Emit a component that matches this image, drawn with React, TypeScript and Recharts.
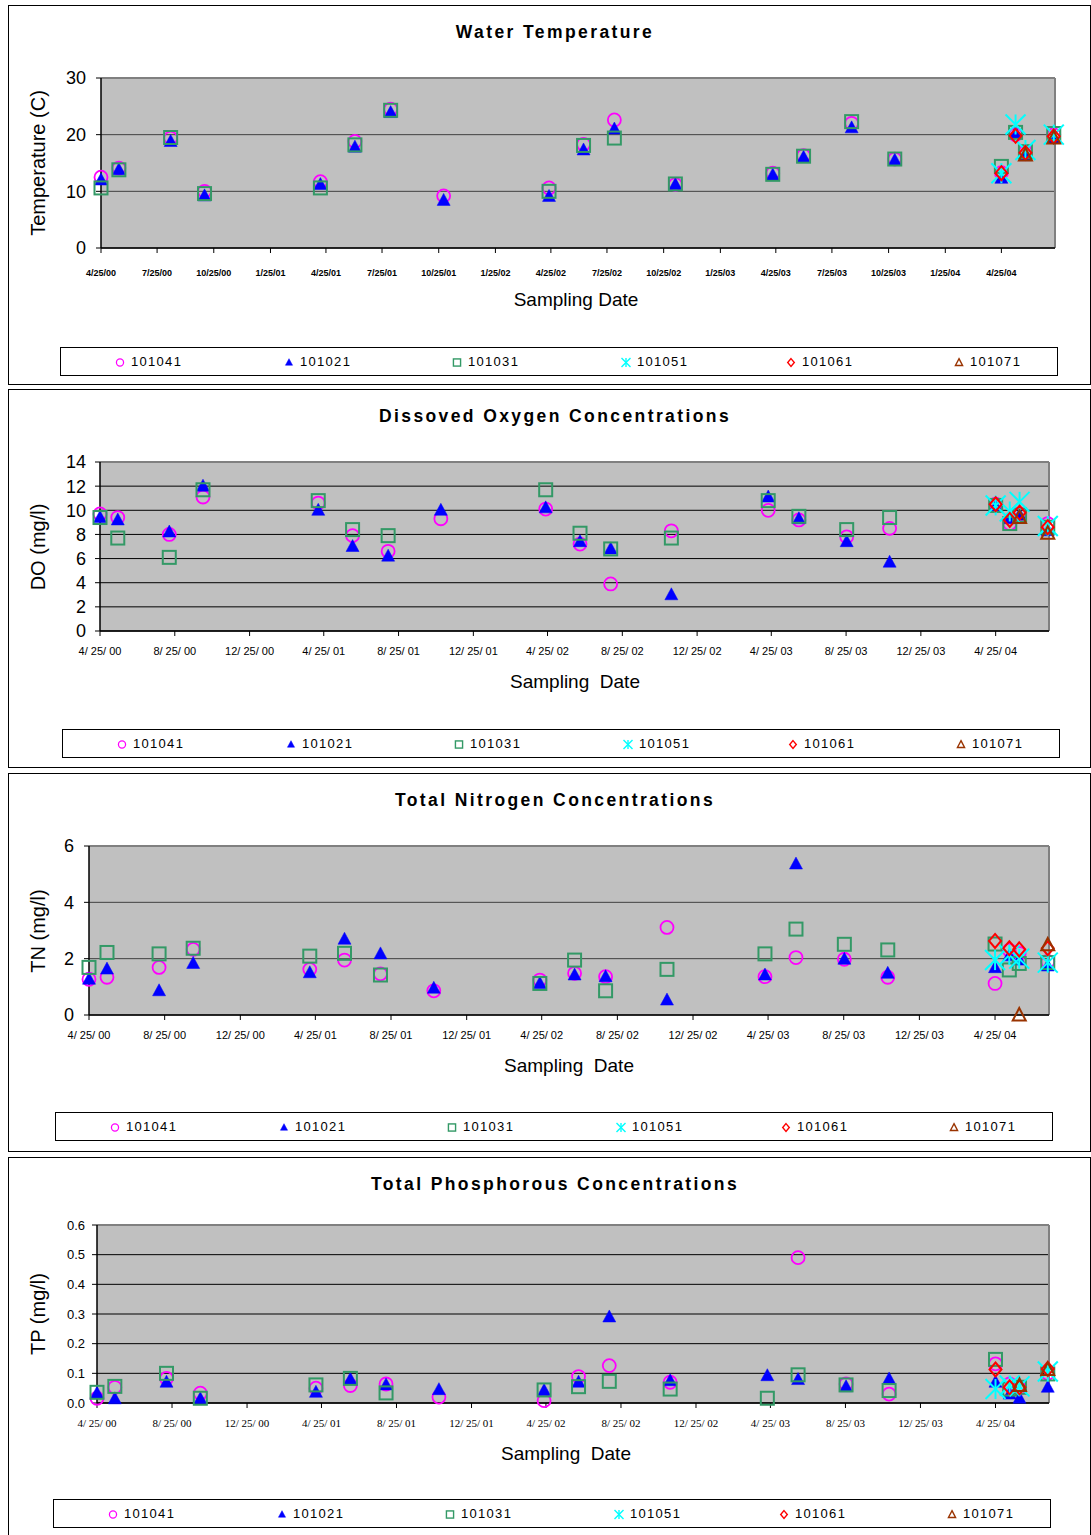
import React from 'react';
import { ScatterChart, Scatter, XAxis, YAxis, CartesianGrid, ReferenceLine } from 'recharts';

// ---------- data ----------
const sampleDates = [
  '4/25/00', '5/24/00', '8/16/00', '10/10/00', '4/16/01', '6/11/01', '8/8/01', '11/2/01',
  '4/22/02', '6/17/02', '8/6/02', '11/13/02', '4/20/03', '6/9/03', '8/26/03', '11/4/03',
  '4/25/04', '5/18/04', '6/3/04', '7/19/04',
];

const seriesNames = ['101041', '101021', '101031', '101051', '101061', '101071'];

const xTicksQuarter = [
  '4/25/00', '7/25/00', '10/25/00', '1/25/01', '4/25/01', '7/25/01', '10/25/01', '1/25/02',
  '4/25/02', '7/25/02', '10/25/02', '1/25/03', '4/25/03', '7/25/03', '10/25/03', '1/25/04', '4/25/04',
];
const xTicksThird = [
  '4/25/00', '8/25/00', '12/25/00', '4/25/01', '8/25/01', '12/25/01', '4/25/02', '8/25/02',
  '12/25/02', '4/25/03', '8/25/03', '12/25/03', '4/25/04',
];
const xDomainDates = ['4/25/00', '7/21/04'];

const N = null;

// Water temperature (C)
const temp101041 = [12.5, 14.1, 19.4, 10.0, 11.7, 18.8, 24.5, 9.2, 10.6, 18.3, 22.6, 11.2, 13.2, 16.3, 22.0, 15.7, 13.3, 20.0, 17.0, 20.0];
const temp101021 = [12.0, 13.8, 18.8, 9.2, 11.2, 17.8, 23.9, 8.4, 9.1, 17.3, 21.0, 11.2, 12.9, 16.0, 21.2, 15.5, 12.3, 20.3, 16.3, 19.4];
const temp101031 = [10.6, 13.8, 19.5, 9.6, 10.6, 18.2, 24.3, N, 10.0, 18.1, 19.4, 11.3, 13.0, 16.2, 22.3, 15.7, 14.4, 20.4, 17.0, 20.2];
const temp101051 = [N, N, N, N, N, N, N, N, N, N, N, N, N, N, N, N, 13.2, 21.8, 17.3, 20.0];
const temp101061 = [N, N, N, N, N, N, N, N, N, N, N, N, N, N, N, N, 13.2, 19.8, 16.8, 19.7];
const temp101071 = [N, N, N, N, N, N, N, N, N, N, N, N, N, N, N, N, N, N, 16.4, 19.4];

// Dissolved oxygen (mg/l)
const do101041 = [9.7, 9.4, 8.0, 11.1, 10.6, 7.9, 6.6, 9.3, 10.1, 7.2, 3.9, 8.3, 10.0, 9.2, 7.8, 8.5, 10.5, 8.9, 9.7, 8.9];
const do101021 = [9.4, 9.2, 8.2, 12.0, 10.0, 7.0, 6.2, 10.0, 10.2, 7.4, 6.8, 3.0, 11.1, 9.3, 7.4, 5.7, 10.3, 9.3, 9.6, 8.3];
const do101031 = [9.4, 7.7, 6.1, 11.7, 10.8, 8.4, 7.9, N, 11.7, 8.1, 6.8, 7.7, 10.8, 9.5, 8.4, 9.4, 10.4, 8.9, 9.6, 8.6];
const do101051 = [N, N, N, N, N, N, N, N, N, N, N, N, N, N, N, N, 10.4, 9.9, 10.7, 8.7];
const do101061 = [N, N, N, N, N, N, N, N, N, N, N, N, N, N, N, N, 10.5, 9.2, 9.8, 8.6];
const do101071 = [N, N, N, N, N, N, N, N, N, N, N, N, N, N, N, N, N, N, 9.4, 8.1];

// Total nitrogen (mg/l)
const tn101041 = [1.27, 1.34, 1.69, 2.33, 1.62, 1.95, 1.46, 0.86, 1.24, 1.48, 1.36, 3.11, 1.36, 2.04, 1.98, 1.34, 1.12, 2.3, 2.19, 1.9];
const tn101021 = [1.27, 1.63, 0.86, 1.83, 1.5, 2.69, 2.17, 0.95, 1.12, 1.42, 1.36, 0.53, 1.42, 5.36, 1.98, 1.48, 1.68, 2.1, 1.95, 1.74];
const tn101031 = [1.69, 2.22, 2.17, 2.37, 2.09, 2.19, 1.42, N, 1.12, 1.95, 0.86, 1.62, 2.17, 3.05, 2.51, 2.31, 2.52, 1.6, 1.83, 1.86];
const tn101051 = [N, N, N, N, N, N, N, N, N, N, N, N, N, N, N, N, 1.95, 2.13, 2.0, 1.86];
const tn101061 = [N, N, N, N, N, N, N, N, N, N, N, N, N, N, N, N, 2.63, 2.37, 2.33, 2.37];
const tn101071 = [N, N, N, N, N, N, N, N, N, N, N, N, N, N, N, N, N, N, 0.0, 2.49];

// Total phosphorous (mg/l)
const tp101041 = [0.016, 0.053, 0.083, 0.033, 0.05, 0.059, 0.064, 0.02, 0.008, 0.089, 0.126, 0.07, N, 0.49, 0.064, 0.03, 0.132, 0.064, 0.05, 0.1];
const tp101021 = [0.033, 0.014, 0.07, 0.014, 0.036, 0.08, 0.061, 0.045, 0.042, 0.07, 0.29, 0.075, 0.092, 0.079, 0.055, 0.081, 0.07, 0.03, 0.016, 0.053];
const tp101031 = [0.036, 0.056, 0.1, 0.016, 0.061, 0.083, 0.034, N, 0.044, 0.055, 0.073, 0.047, 0.016, 0.095, 0.061, 0.042, 0.147, 0.047, 0.053, 0.098];
const tp101051 = [N, N, N, N, N, N, N, N, N, N, N, N, N, N, N, N, 0.047, 0.059, 0.056, 0.106];
const tp101061 = [N, N, N, N, N, N, N, N, N, N, N, N, N, N, N, N, 0.113, 0.053, 0.053, 0.115];
const tp101071 = [N, N, N, N, N, N, N, N, N, N, N, N, N, N, N, N, N, N, 0.059, 0.113];

const tempTicks = [0, 10, 20, 30];
const doTicks = [0, 2, 4, 6, 8, 10, 12, 14];
const tnTicks = [0, 2, 4, 6];
const tpTicks = [0, 0.1, 0.2, 0.3, 0.4, 0.5, 0.6];

// ---------- helpers ----------
function dayOf(s: string): number {
  const [m, d, y] = s.split('/').map(Number);
  return Date.UTC(2000 + y, m - 1, d) / 86400000;
}

function toPoints(values: (number | null)[]) {
  const out: { x: number; y: number }[] = [];
  values.forEach((v, i) => {
    if (v !== null && v !== undefined) out.push({ x: dayOf(sampleDates[i]), y: v });
  });
  return out;
}

const FONT = 'Arial, "Liberation Sans", sans-serif';

// ---------- marker shapes ----------
const COLORS = ['#ff00ff', '#0000ff', '#339966', '#00ffff', '#ff0000', '#993300'];

function drawMarker(kind: number, cx: number, cy: number, s: number, key?: any) {
  const sw = 2 * Math.max(s, 0.7);
  switch (kind) {
    case 0:
      return <circle key={key} cx={cx} cy={cy} r={6.5 * s} fill="none" stroke={COLORS[0]} strokeWidth={1.8 * Math.max(s, 0.7)} />;
    case 1:
      return (
        <polygon key={key}
          points={`${cx},${cy - 7 * s} ${cx + 6.5 * s},${cy + 5 * s} ${cx - 6.5 * s},${cy + 5 * s}`}
          fill={COLORS[1]} stroke={COLORS[1]} strokeWidth={0.5} />
      );
    case 2:
      return <rect key={key} x={cx - 6.5 * s} y={cy - 6.5 * s} width={13 * s} height={13 * s} fill="none" stroke={COLORS[2]} strokeWidth={sw} />;
    case 3: {
      const r = 10 * s;
      return (
        <g key={key} stroke={COLORS[3]} strokeWidth={sw}>
          <line x1={cx - r} y1={cy - r} x2={cx + r} y2={cy + r} />
          <line x1={cx - r} y1={cy + r} x2={cx + r} y2={cy - r} />
          <line x1={cx} y1={cy - r} x2={cx} y2={cy + r} />
        </g>
      );
    }
    case 4:
      return (
        <polygon key={key}
          points={`${cx},${cy - 7 * s} ${cx + 6 * s},${cy} ${cx},${cy + 7 * s} ${cx - 6 * s},${cy}`}
          fill="none" stroke={COLORS[4]} strokeWidth={sw} />
      );
    default:
      return (
        <polygon key={key}
          points={`${cx},${cy - 7 * s} ${cx + 6.5 * s},${cy + 5.5 * s} ${cx - 6.5 * s},${cy + 5.5 * s}`}
          fill="none" stroke={COLORS[5]} strokeWidth={sw} />
      );
  }
}

function makeShape(kind: number) {
  return (props: any) => {
    const { cx, cy } = props;
    if (cx == null || cy == null) return <g />;
    return drawMarker(kind, cx, cy, 1);
  };
}

// ---------- legend (HTML) ----------
const legendOffsets = [59, 228, 396, 565, 730, 898];

function LegendBox({ left, top }: { left: number; top: number }) {
  return (
    <div style={{
      position: 'absolute', left, top, width: 998, height: 29, boxSizing: 'border-box',
      border: '1px solid #000', background: '#fff',
    }}>
      {seriesNames.map((name, i) => (
        <div key={name} style={{ position: 'absolute', left: legendOffsets[i] - 6, top: 0, height: 27, display: 'flex', alignItems: 'center' }}>
          <svg width={12} height={14} style={{ display: 'block' }}>
            {drawMarker(i, 6, 7.5, i === 3 ? 0.45 : 0.55)}
          </svg>
          <span style={{ fontFamily: FONT, fontSize: 13, letterSpacing: 1.3, marginLeft: 5, color: '#000' }}>{name}</span>
        </div>
      ))}
    </div>
  );
}

// ---------- panel ----------
type PanelProps = {
  boxTop: number; boxH: number;
  plotLeft: number; plotRight: number; plotTop: number; plotBottom: number;
  yDomain: [number, number]; yTicks: number[]; yFmt: (v: number) => string;
  yTickFont: number; yTickMargin: number;
  xTicks: string[]; xFmt: (s: string) => string;
  xTickStyle: any; xTickMargin: number;
  title: string; yLabel: string; xTitle: string; xTitleX: number; xTitleY: number;
  legendLeft: number; legendTop: number;
  values: (number | null)[][];
  gridStroke: string;
};

function Panel(p: PanelProps) {
  const chartTop = p.plotTop - 20;
  const xAxisH = 45;
  const chartH = p.plotBottom - p.plotTop + 20 + xAxisH;
  const yAxisW = 50;
  const xMin = dayOf(xDomainDates[0]);
  const xMax = dayOf(xDomainDates[1]);
  const tickDays = p.xTicks.map(dayOf);
  const labelMap = new Map<number, string>();
  p.xTicks.forEach((t, i) => labelMap.set(tickDays[i], p.xFmt(t)));
  const yLabelCy = (p.plotTop + p.plotBottom) / 2;

  return (
    <>
      <div style={{
        position: 'absolute', left: 8, top: p.boxTop, width: 1083, height: p.boxH,
        boxSizing: 'border-box', border: '1px solid #000',
      }} />
      <div style={{
        position: 'absolute', left: 0, width: 1110, top: p.boxTop + 27, textAlign: 'center',
        transform: 'translateY(-50%)', fontFamily: FONT, fontWeight: 'bold', fontSize: 17.5,
        letterSpacing: 2.4, color: '#000', whiteSpace: 'pre',
      }}>{p.title}</div>
      <div style={{
        position: 'absolute', left: 38, top: yLabelCy, transform: 'translate(-50%, -50%) rotate(-90deg)',
        fontFamily: FONT, fontSize: 20, color: '#000', whiteSpace: 'pre',
      }}>{p.yLabel}</div>
      <div style={{
        position: 'absolute', left: p.xTitleX, top: p.xTitleY, transform: 'translate(-50%, -50%)',
        fontFamily: FONT, fontSize: 19, color: '#000', whiteSpace: 'pre',
      }}>{p.xTitle}</div>
      <div style={{ position: 'absolute', left: 0, top: chartTop, width: 1091, height: chartH }}>
        <ScatterChart
          width={1091}
          height={chartH}
          margin={{ top: 20, right: 1091 - p.plotRight, bottom: 0, left: p.plotLeft - yAxisW }}
        >
          <CartesianGrid vertical={false} fill="#c0c0c0" fillOpacity={1} stroke={p.gridStroke} strokeWidth={1} />
          <XAxis
            type="number" dataKey="x" domain={[xMin, xMax]} ticks={tickDays} interval={0}
            height={xAxisH} tickSize={5} tickMargin={p.xTickMargin}
            tickFormatter={(v: number) => labelMap.get(v) ?? ''}
            tick={{ ...p.xTickStyle, fill: '#000' }}
            axisLine={{ stroke: '#000', strokeWidth: 1.5 }} tickLine={{ stroke: '#000' }}
          />
          <YAxis
            type="number" dataKey="y" domain={p.yDomain} ticks={p.yTicks} interval={0}
            width={yAxisW} tickSize={5} tickMargin={p.yTickMargin} tickFormatter={p.yFmt}
            tick={{ fontFamily: FONT, fontSize: p.yTickFont, fill: '#000' }}
            axisLine={{ stroke: '#000', strokeWidth: 1.5 }} tickLine={{ stroke: '#000' }}
          />
          <ReferenceLine y={p.yDomain[1]} stroke="#808080" strokeWidth={2} ifOverflow="visible" />
          <ReferenceLine x={xMax} stroke="#808080" strokeWidth={2} ifOverflow="visible" />
          {p.values.map((vals, i) => (
            <Scatter key={seriesNames[i]} name={seriesNames[i]} data={toPoints(vals)} shape={makeShape(i)} isAnimationActive={false} />
          ))}
        </ScatterChart>
      </div>
      <LegendBox left={p.legendLeft} top={p.legendTop} />
    </>
  );
}

const slashSpaced = (s: string) => s.split('/').join('/ ');
const intFmt = (v: number) => String(v);

export default function App() {
  return (
    <div style={{ position: 'absolute', left: 0, top: 0, width: 1091, height: 1535, overflow: 'hidden', background: '#fff' }}>
      <Panel
        boxTop={5} boxH={380}
        plotLeft={101} plotRight={1055} plotTop={78} plotBottom={248}
        yDomain={[0, 30]} yTicks={tempTicks} yFmt={intFmt} yTickFont={18} yTickMargin={10}
        xTicks={xTicksQuarter} xFmt={(s) => s}
        xTickStyle={{ fontFamily: FONT, fontSize: 9, fontWeight: 900 }} xTickMargin={17}
        title="Water Temperature" yLabel="Temperature (C)" xTitle="Sampling Date" xTitleX={576} xTitleY={300}
        legendLeft={60} legendTop={347}
        values={[temp101041, temp101021, temp101031, temp101051, temp101061, temp101071]}
        gridStroke="#404040"
      />
      <Panel
        boxTop={389} boxH={379}
        plotLeft={100} plotRight={1049} plotTop={462} plotBottom={631}
        yDomain={[0, 14]} yTicks={doTicks} yFmt={intFmt} yTickFont={18} yTickMargin={9}
        xTicks={xTicksThird} xFmt={slashSpaced}
        xTickStyle={{ fontFamily: FONT, fontSize: 11 }} xTickMargin={11}
        title="Dissoved Oxygen Concentrations" yLabel="DO (mg/l)" xTitle="Sampling  Date" xTitleX={575} xTitleY={682}
        legendLeft={62} legendTop={729}
        values={[do101041, do101021, do101031, do101051, do101061, do101071]}
        gridStroke="#000"
      />
      <Panel
        boxTop={773} boxH={379}
        plotLeft={89} plotRight={1049} plotTop={846} plotBottom={1015}
        yDomain={[0, 6]} yTicks={tnTicks} yFmt={intFmt} yTickFont={18} yTickMargin={10}
        xTicks={xTicksThird} xFmt={slashSpaced}
        xTickStyle={{ fontFamily: FONT, fontSize: 11 }} xTickMargin={11}
        title="Total Nitrogen Concentrations" yLabel="TN (mg/l)" xTitle="Sampling  Date" xTitleX={569} xTitleY={1066}
        legendLeft={55} legendTop={1112}
        values={[tn101041, tn101021, tn101031, tn101051, tn101061, tn101071]}
        gridStroke="#404040"
      />
      <Panel
        boxTop={1157} boxH={384}
        plotLeft={97} plotRight={1049} plotTop={1225} plotBottom={1403}
        yDomain={[0, 0.6]} yTicks={tpTicks} yFmt={(v) => v.toFixed(1)} yTickFont={13} yTickMargin={7}
        xTicks={xTicksThird} xFmt={slashSpaced}
        xTickStyle={{ fontFamily: '"Times New Roman", "Liberation Serif", serif', fontSize: 11 }} xTickMargin={11}
        title="Total Phosphorous Concentrations" yLabel="TP (mg/l)" xTitle="Sampling  Date" xTitleX={566} xTitleY={1454}
        legendLeft={53} legendTop={1499}
        values={[tp101041, tp101021, tp101031, tp101051, tp101061, tp101071]}
        gridStroke="#000"
      />
    </div>
  );
}
